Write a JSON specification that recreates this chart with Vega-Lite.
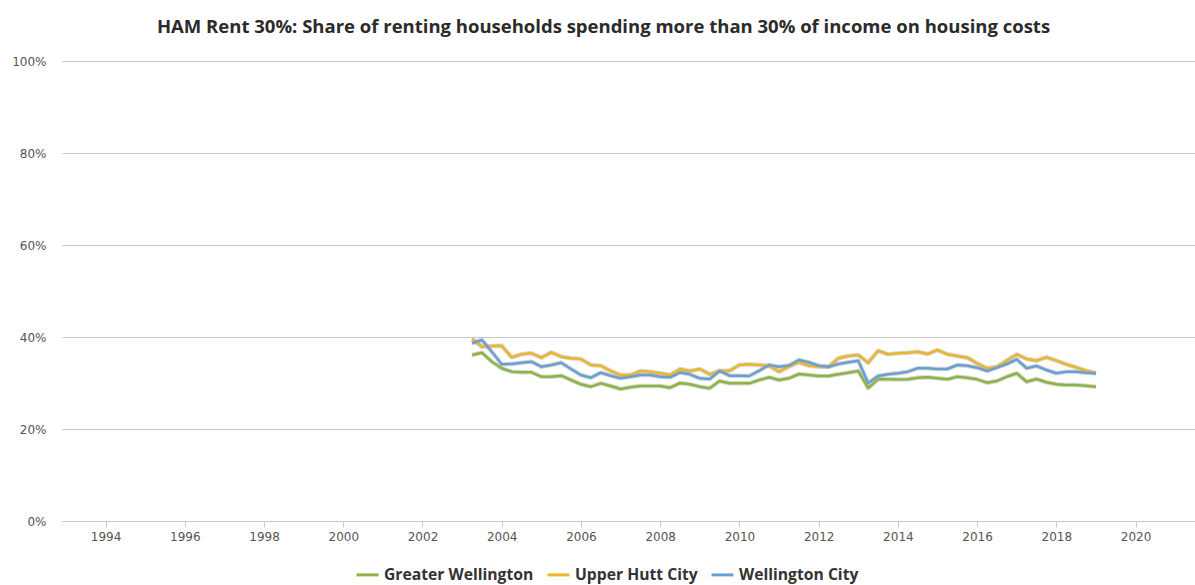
{
  "$schema": "https://vega.github.io/schema/vega-lite/v6.json",
  "width": 1133,
  "height": 460,
  "autosize": {"type": "none"},
  "padding": {"left": 62, "top": 61, "right": 0, "bottom": 64},
  "background": "white",
  "title": {
    "text": "HAM Rent 30%: Share of renting households spending more than 30% of income on housing costs",
    "font": "Open Sans",
    "fontSize": 18.5,
    "fontWeight": "bold",
    "color": "#2b2b2b",
    "anchor": "middle",
    "dx": -25,
    "offset": 19
  },
  "config": {
    "view": {"stroke": null},
    "axis": {"labelFont": "DejaVu Sans", "labelFontSize": 12, "labelColor": "#555555"}
  },
  "data": {"values": [
    {"t":2003.25,"s":"Greater Wellington","v":36.09},{"t":2003.5,"s":"Greater Wellington","v":36.59},{"t":2003.75,"s":"Greater Wellington","v":34.63},{"t":2004.0,"s":"Greater Wellington","v":33.2},
    {"t":2004.25,"s":"Greater Wellington","v":32.46},{"t":2004.5,"s":"Greater Wellington","v":32.33},{"t":2004.75,"s":"Greater Wellington","v":32.33},{"t":2005.0,"s":"Greater Wellington","v":31.37},
    {"t":2005.25,"s":"Greater Wellington","v":31.37},{"t":2005.5,"s":"Greater Wellington","v":31.59},{"t":2005.75,"s":"Greater Wellington","v":30.65},{"t":2006.0,"s":"Greater Wellington","v":29.72},
    {"t":2006.25,"s":"Greater Wellington","v":29.2},{"t":2006.5,"s":"Greater Wellington","v":29.93},{"t":2006.75,"s":"Greater Wellington","v":29.35},{"t":2007.0,"s":"Greater Wellington","v":28.7},
    {"t":2007.25,"s":"Greater Wellington","v":29.07},{"t":2007.5,"s":"Greater Wellington","v":29.35},{"t":2007.75,"s":"Greater Wellington","v":29.35},{"t":2008.0,"s":"Greater Wellington","v":29.35},
    {"t":2008.25,"s":"Greater Wellington","v":28.98},{"t":2008.5,"s":"Greater Wellington","v":30.0},{"t":2008.75,"s":"Greater Wellington","v":29.72},{"t":2009.0,"s":"Greater Wellington","v":29.2},
    {"t":2009.25,"s":"Greater Wellington","v":28.85},{"t":2009.5,"s":"Greater Wellington","v":30.43},{"t":2009.75,"s":"Greater Wellington","v":29.93},{"t":2010.0,"s":"Greater Wellington","v":29.93},
    {"t":2010.25,"s":"Greater Wellington","v":29.93},{"t":2010.5,"s":"Greater Wellington","v":30.65},{"t":2010.75,"s":"Greater Wellington","v":31.24},{"t":2011.0,"s":"Greater Wellington","v":30.65},
    {"t":2011.25,"s":"Greater Wellington","v":31.02},{"t":2011.5,"s":"Greater Wellington","v":31.96},{"t":2011.75,"s":"Greater Wellington","v":31.74},{"t":2012.0,"s":"Greater Wellington","v":31.52},
    {"t":2012.25,"s":"Greater Wellington","v":31.52},{"t":2012.5,"s":"Greater Wellington","v":31.89},{"t":2012.75,"s":"Greater Wellington","v":32.24},{"t":2013.0,"s":"Greater Wellington","v":32.61},
    {"t":2013.25,"s":"Greater Wellington","v":28.91},{"t":2013.5,"s":"Greater Wellington","v":30.8},{"t":2013.75,"s":"Greater Wellington","v":30.8},{"t":2014.0,"s":"Greater Wellington","v":30.76},
    {"t":2014.25,"s":"Greater Wellington","v":30.8},{"t":2014.5,"s":"Greater Wellington","v":31.15},{"t":2014.75,"s":"Greater Wellington","v":31.24},{"t":2015.0,"s":"Greater Wellington","v":31.02},
    {"t":2015.25,"s":"Greater Wellington","v":30.8},{"t":2015.5,"s":"Greater Wellington","v":31.37},{"t":2015.75,"s":"Greater Wellington","v":31.15},{"t":2016.0,"s":"Greater Wellington","v":30.8},
    {"t":2016.25,"s":"Greater Wellington","v":30.07},{"t":2016.5,"s":"Greater Wellington","v":30.43},{"t":2016.75,"s":"Greater Wellington","v":31.37},{"t":2017.0,"s":"Greater Wellington","v":32.11},
    {"t":2017.25,"s":"Greater Wellington","v":30.28},{"t":2017.5,"s":"Greater Wellington","v":30.87},{"t":2017.75,"s":"Greater Wellington","v":30.15},{"t":2018.0,"s":"Greater Wellington","v":29.72},
    {"t":2018.25,"s":"Greater Wellington","v":29.57},{"t":2018.5,"s":"Greater Wellington","v":29.57},{"t":2018.75,"s":"Greater Wellington","v":29.41},{"t":2019.0,"s":"Greater Wellington","v":29.2},

    {"t":2003.25,"s":"Upper Hutt City","v":39.57},{"t":2003.5,"s":"Upper Hutt City","v":37.89},{"t":2003.75,"s":"Upper Hutt City","v":38.04},{"t":2004.0,"s":"Upper Hutt City","v":38.11},
    {"t":2004.25,"s":"Upper Hutt City","v":35.59},{"t":2004.5,"s":"Upper Hutt City","v":36.24},{"t":2004.75,"s":"Upper Hutt City","v":36.46},{"t":2005.0,"s":"Upper Hutt City","v":35.5},
    {"t":2005.25,"s":"Upper Hutt City","v":36.67},{"t":2005.5,"s":"Upper Hutt City","v":35.72},{"t":2005.75,"s":"Upper Hutt City","v":35.37},{"t":2006.0,"s":"Upper Hutt City","v":35.22},
    {"t":2006.25,"s":"Upper Hutt City","v":33.91},{"t":2006.5,"s":"Upper Hutt City","v":33.76},{"t":2006.75,"s":"Upper Hutt City","v":32.61},{"t":2007.0,"s":"Upper Hutt City","v":31.74},
    {"t":2007.25,"s":"Upper Hutt City","v":31.74},{"t":2007.5,"s":"Upper Hutt City","v":32.61},{"t":2007.75,"s":"Upper Hutt City","v":32.46},{"t":2008.0,"s":"Upper Hutt City","v":32.11},
    {"t":2008.25,"s":"Upper Hutt City","v":31.74},{"t":2008.5,"s":"Upper Hutt City","v":33.04},{"t":2008.75,"s":"Upper Hutt City","v":32.61},{"t":2009.0,"s":"Upper Hutt City","v":33.04},
    {"t":2009.25,"s":"Upper Hutt City","v":31.89},{"t":2009.5,"s":"Upper Hutt City","v":32.67},{"t":2009.75,"s":"Upper Hutt City","v":32.67},{"t":2010.0,"s":"Upper Hutt City","v":33.91},
    {"t":2010.25,"s":"Upper Hutt City","v":34.07},{"t":2010.5,"s":"Upper Hutt City","v":33.91},{"t":2010.75,"s":"Upper Hutt City","v":33.76},{"t":2011.0,"s":"Upper Hutt City","v":32.46},
    {"t":2011.25,"s":"Upper Hutt City","v":33.54},{"t":2011.5,"s":"Upper Hutt City","v":34.5},{"t":2011.75,"s":"Upper Hutt City","v":33.76},{"t":2012.0,"s":"Upper Hutt City","v":33.54},
    {"t":2012.25,"s":"Upper Hutt City","v":33.54},{"t":2012.5,"s":"Upper Hutt City","v":35.37},{"t":2012.75,"s":"Upper Hutt City","v":35.87},{"t":2013.0,"s":"Upper Hutt City","v":36.09},
    {"t":2013.25,"s":"Upper Hutt City","v":34.41},{"t":2013.5,"s":"Upper Hutt City","v":37.02},{"t":2013.75,"s":"Upper Hutt City","v":36.24},{"t":2014.0,"s":"Upper Hutt City","v":36.46},
    {"t":2014.25,"s":"Upper Hutt City","v":36.59},{"t":2014.5,"s":"Upper Hutt City","v":36.8},{"t":2014.75,"s":"Upper Hutt City","v":36.3},{"t":2015.0,"s":"Upper Hutt City","v":37.17},
    {"t":2015.25,"s":"Upper Hutt City","v":36.24},{"t":2015.5,"s":"Upper Hutt City","v":35.87},{"t":2015.75,"s":"Upper Hutt City","v":35.5},{"t":2016.0,"s":"Upper Hutt City","v":34.28},
    {"t":2016.25,"s":"Upper Hutt City","v":33.2},{"t":2016.5,"s":"Upper Hutt City","v":33.54},{"t":2016.75,"s":"Upper Hutt City","v":34.89},{"t":2017.0,"s":"Upper Hutt City","v":36.24},
    {"t":2017.25,"s":"Upper Hutt City","v":35.22},{"t":2017.5,"s":"Upper Hutt City","v":34.85},{"t":2017.75,"s":"Upper Hutt City","v":35.59},{"t":2018.0,"s":"Upper Hutt City","v":34.85},
    {"t":2018.25,"s":"Upper Hutt City","v":34.07},{"t":2018.5,"s":"Upper Hutt City","v":33.41},{"t":2018.75,"s":"Upper Hutt City","v":32.67},{"t":2019.0,"s":"Upper Hutt City","v":32.11},

    {"t":2003.25,"s":"Wellington City","v":38.63},{"t":2003.5,"s":"Wellington City","v":39.35},{"t":2003.75,"s":"Wellington City","v":36.8},{"t":2004.0,"s":"Wellington City","v":34.07},
    {"t":2004.25,"s":"Wellington City","v":34.13},{"t":2004.5,"s":"Wellington City","v":34.41},{"t":2004.75,"s":"Wellington City","v":34.63},{"t":2005.0,"s":"Wellington City","v":33.54},
    {"t":2005.25,"s":"Wellington City","v":33.91},{"t":2005.5,"s":"Wellington City","v":34.41},{"t":2005.75,"s":"Wellington City","v":33.04},{"t":2006.0,"s":"Wellington City","v":31.74},
    {"t":2006.25,"s":"Wellington City","v":31.15},{"t":2006.5,"s":"Wellington City","v":32.24},{"t":2006.75,"s":"Wellington City","v":31.59},{"t":2007.0,"s":"Wellington City","v":31.02},
    {"t":2007.25,"s":"Wellington City","v":31.37},{"t":2007.5,"s":"Wellington City","v":31.74},{"t":2007.75,"s":"Wellington City","v":31.74},{"t":2008.0,"s":"Wellington City","v":31.37},
    {"t":2008.25,"s":"Wellington City","v":31.24},{"t":2008.5,"s":"Wellington City","v":32.28},{"t":2008.75,"s":"Wellington City","v":31.89},{"t":2009.0,"s":"Wellington City","v":31.02},
    {"t":2009.25,"s":"Wellington City","v":30.87},{"t":2009.5,"s":"Wellington City","v":32.61},{"t":2009.75,"s":"Wellington City","v":31.59},{"t":2010.0,"s":"Wellington City","v":31.59},
    {"t":2010.25,"s":"Wellington City","v":31.52},{"t":2010.5,"s":"Wellington City","v":32.67},{"t":2010.75,"s":"Wellington City","v":33.91},{"t":2011.0,"s":"Wellington City","v":33.54},
    {"t":2011.25,"s":"Wellington City","v":33.8},{"t":2011.5,"s":"Wellington City","v":35.0},{"t":2011.75,"s":"Wellington City","v":34.5},{"t":2012.0,"s":"Wellington City","v":33.76},
    {"t":2012.25,"s":"Wellington City","v":33.54},{"t":2012.5,"s":"Wellington City","v":34.13},{"t":2012.75,"s":"Wellington City","v":34.5},{"t":2013.0,"s":"Wellington City","v":34.85},
    {"t":2013.25,"s":"Wellington City","v":30.0},{"t":2013.5,"s":"Wellington City","v":31.52},{"t":2013.75,"s":"Wellington City","v":31.89},{"t":2014.0,"s":"Wellington City","v":32.11},
    {"t":2014.25,"s":"Wellington City","v":32.46},{"t":2014.5,"s":"Wellington City","v":33.2},{"t":2014.75,"s":"Wellington City","v":33.2},{"t":2015.0,"s":"Wellington City","v":33.04},
    {"t":2015.25,"s":"Wellington City","v":33.04},{"t":2015.5,"s":"Wellington City","v":33.91},{"t":2015.75,"s":"Wellington City","v":33.76},{"t":2016.0,"s":"Wellington City","v":33.33},
    {"t":2016.25,"s":"Wellington City","v":32.61},{"t":2016.5,"s":"Wellington City","v":33.33},{"t":2016.75,"s":"Wellington City","v":34.13},{"t":2017.0,"s":"Wellington City","v":35.15},
    {"t":2017.25,"s":"Wellington City","v":33.2},{"t":2017.5,"s":"Wellington City","v":33.7},{"t":2017.75,"s":"Wellington City","v":32.83},{"t":2018.0,"s":"Wellington City","v":32.11},
    {"t":2018.25,"s":"Wellington City","v":32.46},{"t":2018.5,"s":"Wellington City","v":32.46},{"t":2018.75,"s":"Wellington City","v":32.24},{"t":2019.0,"s":"Wellington City","v":32.11}
  ]},
  "encoding": {
    "x": {
      "field": "t", "type": "quantitative",
      "scale": {"domain": [1992.9, 2021.5], "nice": false, "zero": false},
      "axis": {
        "title": null, "values": [1994,1996,1998,2000,2002,2004,2006,2008,2010,2012,2014,2016,2018,2020],
        "format": "d", "grid": false, "domain": true, "domainColor": "#c8c8c8", "domainWidth": 1,
        "ticks": true, "tickColor": "#c8c8c8", "tickSize": 6, "labelPadding": 4
      }
    },
    "y": {
      "field": "v", "type": "quantitative",
      "scale": {"domain": [0, 100], "nice": false},
      "axis": {
        "title": null, "values": [0,20,40,60,80,100], "labelExpr": "datum.value + '%'",
        "grid": true, "gridColor": "#c8c8c8", "gridWidth": 1, "domain": false, "ticks": false, "labelPadding": 16
      }
    }
  },
  "layer": [
    {
      "mark": {"type": "line", "stroke": "#7f7f7f", "strokeWidth": 4.5, "opacity": 0.3, "strokeJoin": "round"},
      "encoding": {"detail": {"field": "s", "type": "nominal"}}
    },
    {
      "mark": {"type": "line", "strokeWidth": 2.5, "strokeJoin": "round"},
      "encoding": {
        "color": {
          "field": "s", "type": "nominal",
          "scale": {"domain": ["Greater Wellington","Upper Hutt City","Wellington City"], "range": ["#8db443","#ebb52c","#6a9fd3"]},
          "legend": {
            "title": null, "orient": "none", "direction": "horizontal", "legendX": 293, "legendY": 501,
            "symbolType": "stroke", "symbolSize": 484, "symbolStrokeWidth": 3,
            "labelFont": "Open Sans", "labelFontSize": 15.7, "labelFontWeight": "bold", "labelColor": "#333333",
            "labelOffset": 4, "columnPadding": 7
          }
        }
      }
    }
  ]
}
